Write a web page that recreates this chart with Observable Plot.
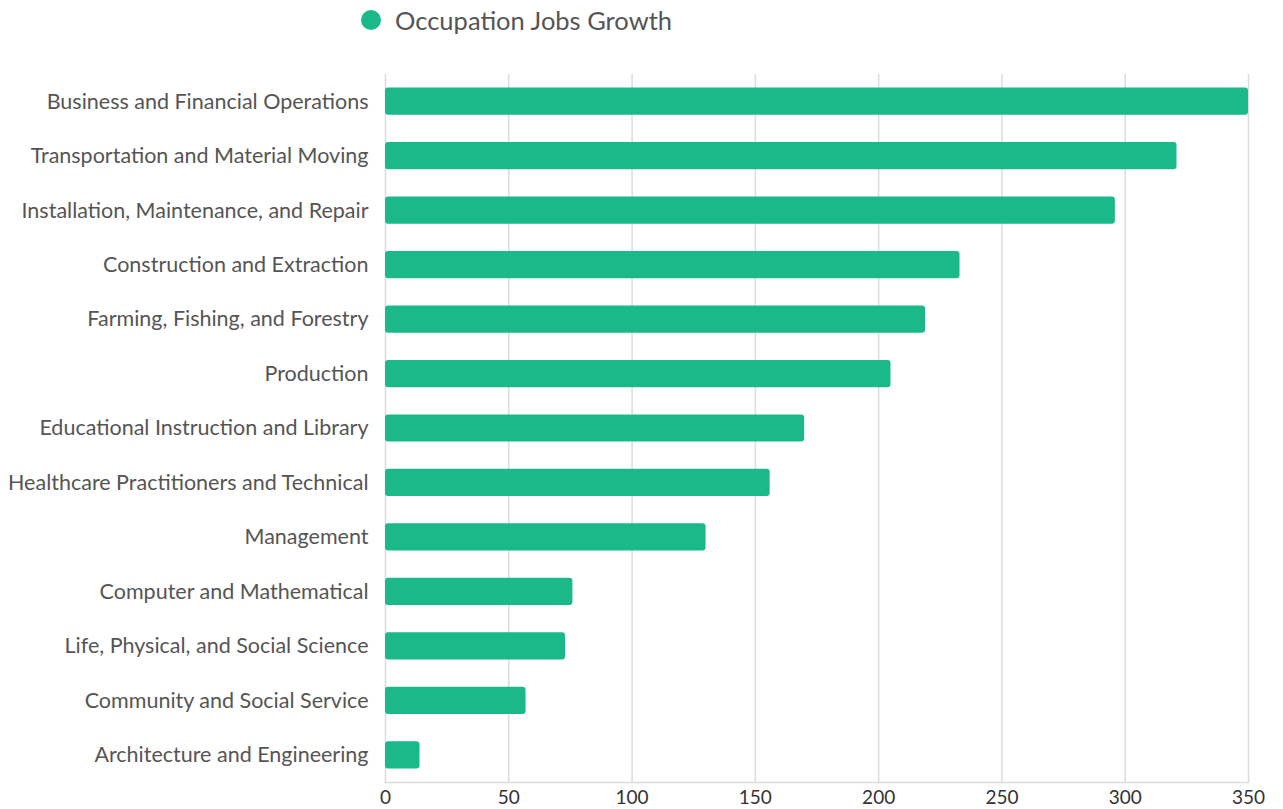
<!DOCTYPE html>
<html>
<head>
<meta charset="utf-8">
<script src="https://cdn.jsdelivr.net/npm/d3@7"></script>
<script src="https://cdn.jsdelivr.net/npm/@observablehq/plot@0.6"></script>
<style>
  html, body { margin: 0; padding: 0; background: #fff; }
  #legend { height: 40px; position: relative; font-family: Lato, sans-serif; }
  #legend .sw { position: absolute; left: 361px; top: 10px; width: 20px; height: 20px; border-radius: 50%; background: #1bb88a; }
  #legend .lbl { position: absolute; left: 395px; top: 3px; font-size: 25.5px; color: #555; line-height: 34px; }
  #chart svg { display: block; }
</style>
</head>
<body>
<div id="legend"><div class="sw"></div><div class="lbl">Occupation Jobs Growth</div></div>
<div id="chart"></div>
<script>
const categories = [
  "Business and Financial Operations",
  "Transportation and Material Moving",
  "Installation, Maintenance, and Repair",
  "Construction and Extraction",
  "Farming, Fishing, and Forestry",
  "Production",
  "Educational Instruction and Library",
  "Healthcare Practitioners and Technical",
  "Management",
  "Computer and Mathematical",
  "Life, Physical, and Social Science",
  "Community and Social Service",
  "Architecture and Engineering"
];
const growth = [350, 321, 296, 233, 219, 205, 170, 156, 130, 76, 73, 57, 14];
const xTicks = [0, 50, 100, 150, 200, 250, 300, 350];

const data = categories.map((c, i) => ({category: c, value: growth[i]}));

const chart = Plot.plot({
  width: 1283,
  height: 769,
  marginTop: 34,
  marginBottom: 27,
  marginLeft: 385,
  marginRight: 35,
  style: {fontFamily: "Lato, sans-serif", fontSize: "19px", color: "#555", background: "#fff"},
  x: {domain: [0, 350], ticks: xTicks, label: null},
  y: {domain: categories, paddingInner: 0.5, paddingOuter: 0.25, round: false, label: null},
  marks: [
    Plot.ruleX(xTicks, {stroke: "#dcdcdc", strokeWidth: 1.5}),
    Plot.frame({anchor: "bottom", stroke: "#dcdcdc", strokeWidth: 1.5}),
    Plot.barX(data, {x: "value", y: "category", fill: "#1bb88a", rx: 3}),
    Plot.axisX({ticks: xTicks, tickSize: 0, tickPadding: 8, fill: "#333", fontSize: 19}),
    Plot.axisY({tickSize: 0, tickPadding: 17, fill: "#555", fontSize: 21.5})
  ]
});
document.getElementById("chart").appendChild(chart);
</script>
</body>
</html>
